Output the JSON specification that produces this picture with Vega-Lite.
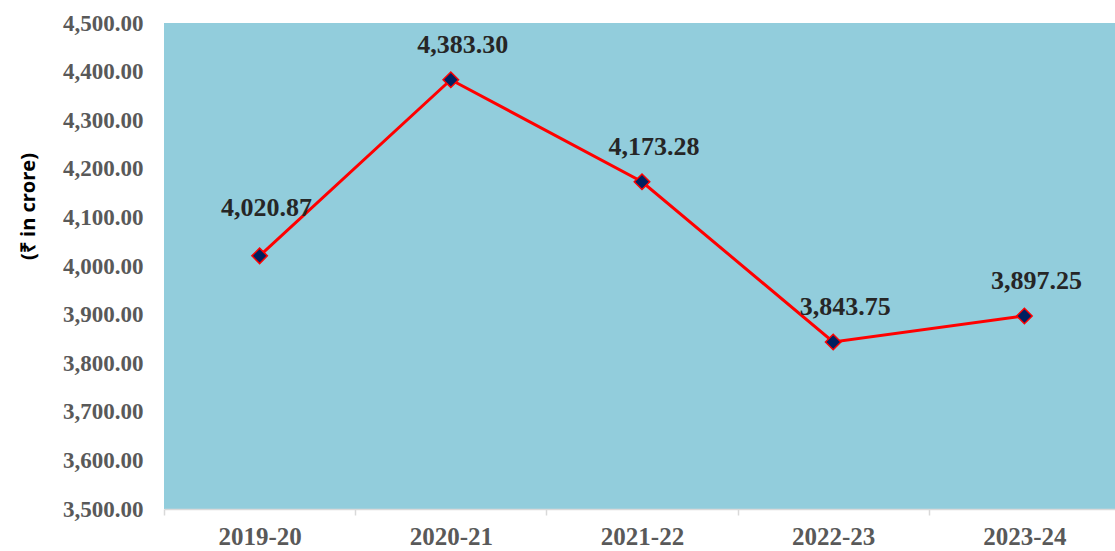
{
  "$schema": "https://vega.github.io/schema/vega-lite/v6.json",
  "width": 956,
  "height": 486,
  "autosize": {"type": "none"},
  "padding": {"left": 164, "top": 23, "right": -5, "bottom": 42},
  "background": "white",
  "view": {"fill": "#92CDDC", "stroke": null},
  "data": {
    "values": [
      {"year": "2019-20", "value": 4020.87},
      {"year": "2020-21", "value": 4383.30},
      {"year": "2021-22", "value": 4173.28},
      {"year": "2022-23", "value": 3843.75},
      {"year": "2023-24", "value": 3897.25}
    ]
  },
  "encoding": {
    "x": {
      "field": "year", "type": "nominal", "sort": null,
      "scale": {"paddingInner": 0, "paddingOuter": 0},
      "axis": {
        "title": null, "labelAngle": 0, "tickBand": "extent",
        "labelFont": "Liberation Serif", "labelFontWeight": "bold", "labelFontSize": 25,
        "labelColor": "#595959", "labelPadding": 9,
        "tickSize": 6, "tickColor": "#D9D9D9", "tickWidth": 1.5,
        "domainColor": "#D9D9D9", "domainWidth": 1.5, "grid": false
      }
    },
    "y": {
      "field": "value", "type": "quantitative",
      "scale": {"domain": [3500, 4500], "nice": false, "zero": false},
      "axis": {
        "values": [3500, 3600, 3700, 3800, 3900, 4000, 4100, 4200, 4300, 4400, 4500],
        "format": ",.2f", "grid": false, "ticks": false, "domain": false,
        "labelFont": "Liberation Serif", "labelFontWeight": "bold", "labelFontSize": 23,
        "labelColor": "#595959", "labelPadding": 21,
        "title": "(₹ in crore)", "titleFont": "Open Sans", "titleFontWeight": "bold",
        "titleFontSize": 20, "titleColor": "#000000", "titleAngle": -90,
        "titleX": -136, "titleY": 183, "titleAlign": "center", "titleBaseline": "middle"
      }
    }
  },
  "layer": [
    {"mark": {"type": "line", "color": "#FF0000", "strokeWidth": 3}},
    {"mark": {"type": "point", "shape": "diamond", "size": 240, "filled": true, "fill": "#002060", "stroke": "#FF0000", "strokeWidth": 1.5, "opacity": 1}},
    {
      "transform": [{"filter": "datum.year !== '2019-20'"}],
      "mark": {"type": "text", "font": "Liberation Serif", "fontWeight": "bold", "fontSize": 26, "color": "#262626", "dy": -27, "dx": 12, "baseline": "alphabetic"},
      "encoding": {"text": {"field": "value", "type": "quantitative", "format": ",.2f"}}
    },
    {
      "transform": [{"filter": "datum.year === '2019-20'"}],
      "mark": {"type": "text", "font": "Liberation Serif", "fontWeight": "bold", "fontSize": 26, "color": "#262626", "dy": -40, "dx": 7, "baseline": "alphabetic"},
      "encoding": {"text": {"field": "value", "type": "quantitative", "format": ",.2f"}}
    }
  ]
}
